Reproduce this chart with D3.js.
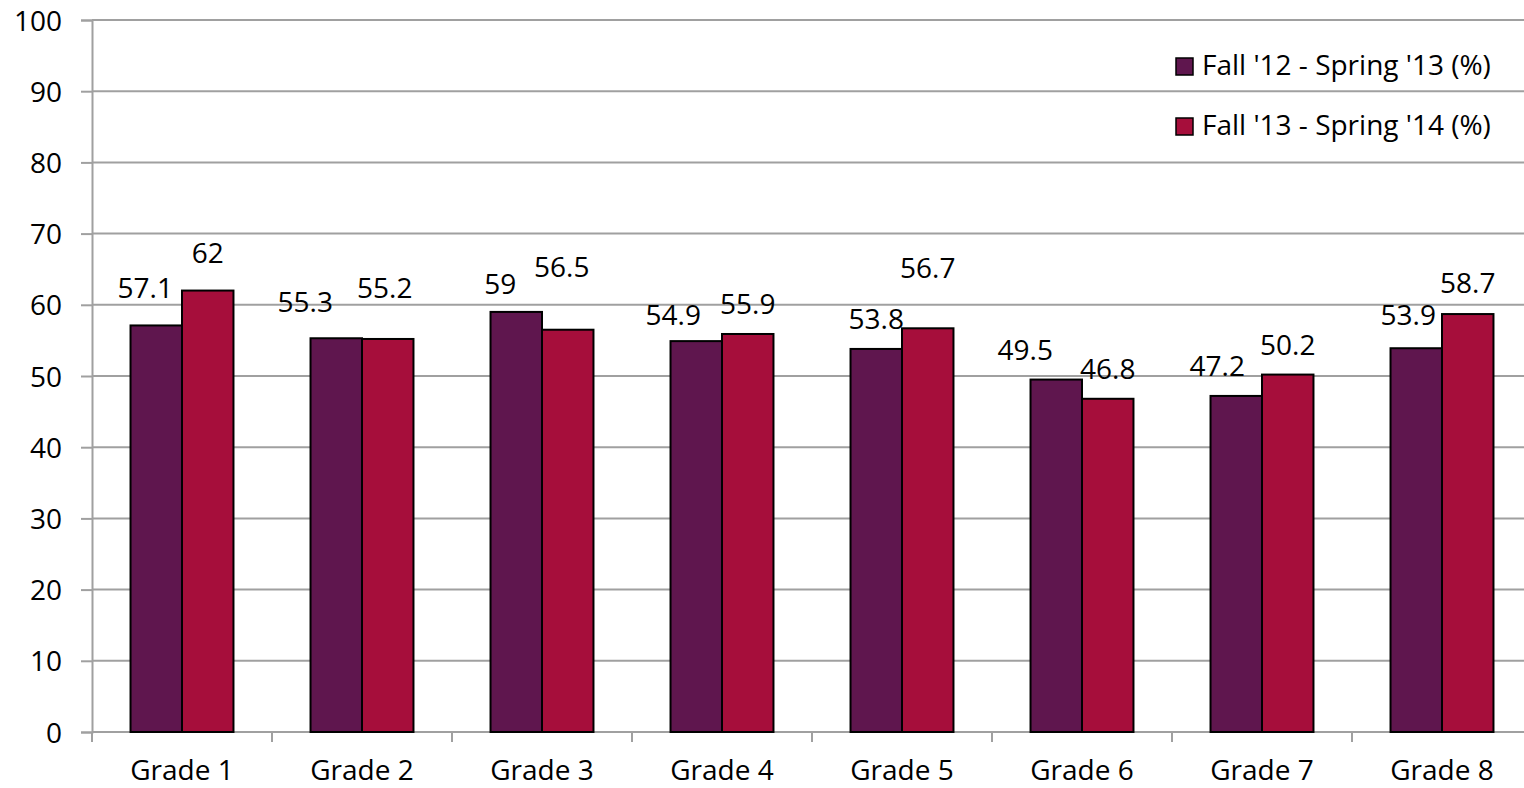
<!DOCTYPE html>
<html>
<head>
<meta charset="utf-8">
<script src="https://cdn.jsdelivr.net/npm/d3@7"></script>
<style>
  html, body { margin: 0; padding: 0; background: #fff; }
  svg { display: block; font-family: "Open Sans", sans-serif; }
</style>
</head>
<body>
<svg id="chart" width="1524" height="788"></svg>
<script>
// ---- data ----
const categories = ["Grade 1", "Grade 2", "Grade 3", "Grade 4", "Grade 5", "Grade 6", "Grade 7", "Grade 8"];
const seriesNames = ["Fall '12 - Spring '13 (%)", "Fall '13 - Spring '14 (%)"];
const fall12 = [57.1, 55.3, 59, 54.9, 53.8, 49.5, 47.2, 53.9];
const fall13 = [62, 55.2, 56.5, 55.9, 56.7, 46.8, 50.2, 58.7];
const yTicks = [0, 10, 20, 30, 40, 50, 60, 70, 80, 90, 100];
const colors = ["#5f164e", "#a60e3b"];
// label nudges (px) mimicking the original label placement
const labelNudge12 = [[-11, -7], [-31, -6], [-16, 2], [-23, 4], [0, 0], [-31, 0], [-19, 0], [-8, -3]];
const labelNudge13 = [[0, -8], [-3, -21], [-6, -33], [0, 0], [0, -30], [0, 0], [0, 0], [0, -1]];

const series = [fall12, fall13];
const nudges = [labelNudge12, labelNudge13];

(function () {
  // ---- layout ----
  const svg = d3.select("#chart");
  const pLeft = 92, pRight = 1532, pTop = 20, pBottom = 732;

  const x0 = d3.scaleBand().domain(categories).range([pLeft, pRight]).paddingInner(0.428).paddingOuter(0.214);
  const xAxisScale = d3.scaleBand().domain(categories).range([pLeft, pRight]).padding(0);
  const x1 = d3.scaleBand().domain([0, 1]).range([0, x0.bandwidth()]).padding(0);
  const y = d3.scaleLinear().domain([0, 100]).range([pBottom, pTop]);

  const gridColor = "#a0a0a0";
  const fontSize = 28;
  const textColor = "#000";

  // gridlines
  svg.append("g").selectAll("line").data(yTicks).join("line")
    .attr("x1", pLeft).attr("x2", 1524)
    .attr("y1", d => y(d)).attr("y2", d => y(d))
    .attr("stroke", gridColor).attr("stroke-width", 2);

  // y axis
  const yAxis = svg.append("g").attr("transform", `translate(${pLeft},0)`)
    .call(d3.axisLeft(y).tickValues(yTicks).tickSize(11).tickPadding(19).tickFormat(d3.format("d")));
  yAxis.select(".domain").attr("stroke", gridColor).attr("stroke-width", 2);
  yAxis.selectAll(".tick line").attr("stroke", gridColor).attr("stroke-width", 2);
  yAxis.selectAll("text").attr("font-size", fontSize).attr("fill", textColor).attr("font-family", "Open Sans").attr("dy", "0.36em");

  // x axis
  const xTickPositions = categories.map(c => xAxisScale(c)).concat([pRight]);
  const xAxis = svg.append("g");
  xAxis.append("line").attr("x1", pLeft).attr("x2", 1524).attr("y1", pBottom).attr("y2", pBottom)
    .attr("stroke", gridColor).attr("stroke-width", 2);
  xAxis.selectAll("line.tk").data(xTickPositions).join("line").attr("class", "tk")
    .attr("x1", d => d).attr("x2", d => d).attr("y1", pBottom).attr("y2", pBottom + 10)
    .attr("stroke", gridColor).attr("stroke-width", 2);
  xAxis.selectAll("text").data(categories).join("text")
    .attr("x", d => xAxisScale(d) + xAxisScale.bandwidth() / 2)
    .attr("y", 780)
    .attr("text-anchor", "middle").attr("font-size", fontSize).attr("fill", textColor)
    .text(d => d);

  // bars
  series.forEach((vals, si) => {
    svg.append("g").selectAll("rect").data(vals).join("rect")
      .attr("x", (d, i) => x0(categories[i]) + x1(si))
      .attr("y", d => y(d))
      .attr("width", x1.bandwidth())
      .attr("height", d => y(0) - y(d))
      .attr("fill", colors[si])
      .attr("stroke", "#000").attr("stroke-width", 2);
  });

  // labels
  series.forEach((vals, si) => {
    svg.append("g").selectAll("text").data(vals).join("text")
      .attr("x", (d, i) => x0(categories[i]) + x1(si) + x1.bandwidth() / 2 + nudges[si][i][0])
      .attr("y", (d, i) => y(d) - 20 + nudges[si][i][1])
      .attr("text-anchor", "middle").attr("font-size", fontSize).attr("fill", textColor)
      .text(d => d);
  });

  // legend
  const legend = svg.append("g");
  seriesNames.forEach((name, i) => {
    const ly = 75 + i * 60;
    legend.append("rect").attr("x", 1176).attr("y", ly - 17).attr("width", 17).attr("height", 17)
      .attr("fill", colors[i]).attr("stroke", "#000").attr("stroke-width", 1.5);
    legend.append("text").attr("x", 1202).attr("y", ly).attr("font-size", fontSize).attr("fill", textColor).text(name);
  });
})();
</script>
</body>
</html>
